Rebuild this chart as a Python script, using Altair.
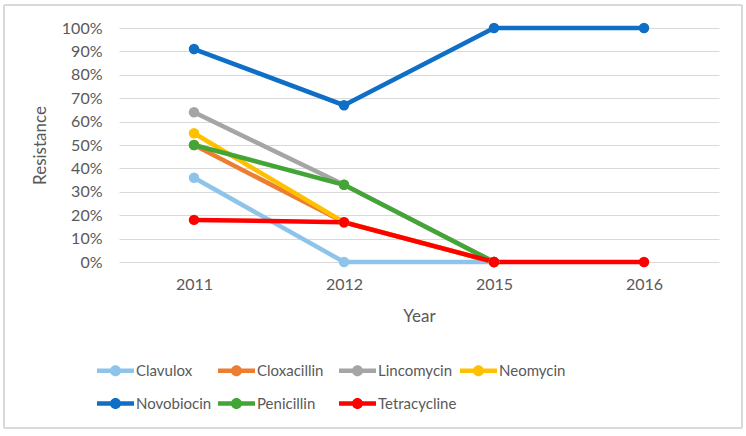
import altair as alt
import pandas as pd

years = ["2011", "2012", "2015", "2016"]
drugs = ["Clavulox", "Cloxacillin", "Lincomycin", "Neomycin",
         "Novobiocin", "Penicillin", "Tetracycline"]
colors = ["#8EC3EA", "#ED7D31", "#A5A5A5", "#FFC000",
          "#0F6FC6", "#43A535", "#FF0000"]

clavulox = [0.36, 0.00, 0.00, None]
cloxacillin = [0.50, 0.17, 0.00, None]
lincomycin = [0.64, 0.33, 0.00, None]
neomycin = [0.55, 0.17, 0.00, None]
novobiocin = [0.91, 0.67, 1.00, 1.00]
penicillin = [0.50, 0.33, 0.00, None]
tetracycline = [0.18, 0.17, 0.00, 0.00]

series = [clavulox, cloxacillin, lincomycin, neomycin, novobiocin, penicillin, tetracycline]
rows = []
for d, vals in zip(drugs, series):
    for y, v in zip(years, vals):
        if v is not None:
            rows.append({"Drug": d, "Year": y, "Resistance": v})
df = pd.DataFrame(rows)

FONT = "Lato"
GRAY = "#595959"

sym = ("M-1.5,-0.19 L1.5,-0.19 L1.5,0.19 L-1.5,0.19 Z "
       "M-0.45,0 A0.45,0.45 0 1,1 0.45,0 A0.45,0.45 0 1,1 -0.45,0 Z")

xenc = alt.X("Year:O", sort=years, scale=alt.Scale(type="point", padding=0.5),
             axis=alt.Axis(title="Year", labelAngle=0, ticks=False, domain=False,
                           labelPadding=14, titlePadding=16, titleFontSize=17,
                           titleFontWeight="normal", labelFontSize=16,
                           grid=False))
yenc = alt.Y("Resistance:Q", scale=alt.Scale(domain=[0, 1], nice=False),
             axis=alt.Axis(title="Resistance", format=".0%", values=[i / 10 for i in range(11)],
                           ticks=False, domain=False, labelPadding=17, titlePadding=12,
                           titleFontSize=17, titleFontWeight="normal", labelFontSize=16,
                           gridColor="#D9D9D9", gridWidth=1))
legend = alt.Legend(title=None, orient="none", legendX=-16, legendY=330,
                    direction="horizontal", columns=4, symbolType=sym,
                    symbolSize=609, symbolStrokeWidth=0, labelOffset=8,
                    gridAlign="all", columnPadding=2, rowPadding=12,
                    labelFontSize=15, labelColor=GRAY, labelFont=FONT)
cenc = alt.Color("Drug:N", scale=alt.Scale(domain=drugs, range=colors), legend=legend)

lines = alt.Chart(df).mark_line(strokeWidth=4.5).encode(x=xenc, y=yenc, color=cenc)
points = alt.Chart(df).mark_point(filled=True, size=110, opacity=1).encode(
    x=xenc, y=yenc, color=cenc)
border = alt.Chart(df).mark_rect(fill=None, stroke="#D9D9D9", strokeWidth=1).encode(
    x=alt.value(-115), x2=alt.value(623), y=alt.value(-23), y2=alt.value(400)
)

chart = alt.layer(border, lines, points).properties(
    width=600, height=234,
    autosize=alt.AutoSizeParams(type="none"),
    padding={"left": 119, "top": 28, "right": 27, "bottom": 174},
).configure_view(stroke=None).configure_axis(
    labelFont=FONT, titleFont=FONT, labelColor=GRAY, titleColor=GRAY
)

chart.save("out.html", embed_options={"renderer": "svg", "actions": False})
